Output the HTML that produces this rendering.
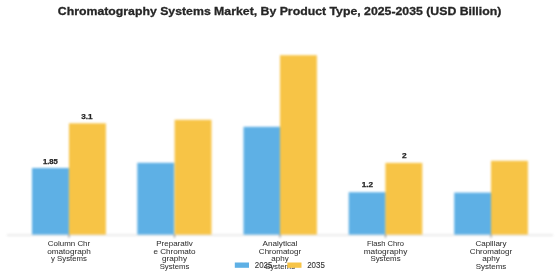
<!DOCTYPE html>
<html><head><meta charset="utf-8">
<style>
html,body{margin:0;padding:0;background:#fff;width:560px;height:280px;overflow:hidden;position:relative}
.l{position:absolute;left:0;top:0;width:560px;height:280px}
.b{filter:blur(0.8px)}
svg{display:block}
text{font-family:"Liberation Sans",sans-serif}
</style></head>
<body>
<div class="l b"><svg width="560" height="280" viewBox="0 0 560 280">
<line x1="7" y1="235.1" x2="553" y2="235.1" stroke="#d8d8d8" stroke-width="1"/>
<g fill="#5EB0E5">
<rect x="32" y="168" width="36.9" height="66.60"/>
<rect x="137.3" y="162.8" width="36.9" height="71.80"/>
<rect x="243.5" y="126.8" width="36.9" height="107.80"/>
<rect x="348.7" y="192.2" width="36.9" height="42.40"/>
<rect x="454.2" y="192.6" width="36.9" height="42.00"/>
</g>
<g fill="#F7C446">
<rect x="69" y="123.3" width="36.9" height="111.30"/>
<rect x="174.6" y="119.8" width="36.9" height="114.80"/>
<rect x="280" y="55.2" width="36.9" height="179.40"/>
<rect x="385.4" y="162.9" width="36.9" height="71.70"/>
<rect x="491" y="160.8" width="36.9" height="73.80"/>
</g>
<line x1="69" y1="234.6" x2="69" y2="237.6" stroke="#555" stroke-width="0.8"/>
<line x1="174.5" y1="234.6" x2="174.5" y2="237.6" stroke="#555" stroke-width="0.8"/>
<line x1="280" y1="234.6" x2="280" y2="237.6" stroke="#555" stroke-width="0.8"/>
<line x1="385.5" y1="234.6" x2="385.5" y2="237.6" stroke="#555" stroke-width="0.8"/>
<line x1="491" y1="234.6" x2="491" y2="237.6" stroke="#555" stroke-width="0.8"/>
</svg></div>
<div class="l" style="will-change:transform"><svg width="560" height="280" viewBox="0 0 560 280">
<text x="57.8" y="14.5" font-size="11.4" font-weight="bold" fill="#262626" stroke="#262626" stroke-width="0.3" textLength="443.5" lengthAdjust="spacingAndGlyphs">Chromatography Systems Market, By Product Type, 2025-2035 (USD Billion)</text>
<text x="43.00" y="163.9" font-size="6.4" font-weight="bold" fill="#262626" stroke="#262626" stroke-width="0.25" textLength="14.8" lengthAdjust="spacingAndGlyphs">1.85</text>
<text x="81.35" y="118.6" font-size="6.4" font-weight="bold" fill="#262626" stroke="#262626" stroke-width="0.25" textLength="11.3" lengthAdjust="spacingAndGlyphs">3.1</text>
<text x="361.65" y="187.3" font-size="6.4" font-weight="bold" fill="#262626" stroke="#262626" stroke-width="0.25" textLength="11.3" lengthAdjust="spacingAndGlyphs">1.2</text>
<text x="402.00" y="158.2" font-size="6.4" font-weight="bold" fill="#262626" stroke="#262626" stroke-width="0.25" textLength="4.6" lengthAdjust="spacingAndGlyphs">2</text>
<text x="47.80" y="245.80" font-size="8.1" fill="#333333" stroke="#333333" stroke-width="0.05" textLength="42.40" lengthAdjust="spacingAndGlyphs">Column Chr</text>
<text x="47.15" y="253.55" font-size="8.1" fill="#333333" stroke="#333333" stroke-width="0.05" textLength="43.70" lengthAdjust="spacingAndGlyphs">omatograph</text>
<text x="51.00" y="261.30" font-size="8.1" fill="#333333" stroke="#333333" stroke-width="0.05" textLength="36.00" lengthAdjust="spacingAndGlyphs">y Systems</text>
<text x="156.30" y="245.80" font-size="8.1" fill="#333333" stroke="#333333" stroke-width="0.05" textLength="36.40" lengthAdjust="spacingAndGlyphs">Preparativ</text>
<text x="153.40" y="253.55" font-size="8.1" fill="#333333" stroke="#333333" stroke-width="0.05" textLength="42.20" lengthAdjust="spacingAndGlyphs">e Chromato</text>
<text x="162.00" y="261.30" font-size="8.1" fill="#333333" stroke="#333333" stroke-width="0.05" textLength="25.00" lengthAdjust="spacingAndGlyphs">graphy</text>
<text x="159.70" y="269.05" font-size="8.1" fill="#333333" stroke="#333333" stroke-width="0.05" textLength="29.60" lengthAdjust="spacingAndGlyphs">Systems</text>
<text x="262.60" y="245.80" font-size="8.1" fill="#333333" stroke="#333333" stroke-width="0.05" textLength="34.80" lengthAdjust="spacingAndGlyphs">Analytical</text>
<text x="258.85" y="253.55" font-size="8.1" fill="#333333" stroke="#333333" stroke-width="0.05" textLength="42.30" lengthAdjust="spacingAndGlyphs">Chromatogr</text>
<text x="271.35" y="261.30" font-size="8.1" fill="#333333" stroke="#333333" stroke-width="0.05" textLength="17.30" lengthAdjust="spacingAndGlyphs">aphy</text>
<text x="264.90" y="269.05" font-size="8.1" fill="#333333" stroke="#333333" stroke-width="0.05" textLength="30.20" lengthAdjust="spacingAndGlyphs">Systems</text>
<text x="367.00" y="245.80" font-size="8.1" fill="#333333" stroke="#333333" stroke-width="0.05" textLength="37.00" lengthAdjust="spacingAndGlyphs">Flash Chro</text>
<text x="363.70" y="253.55" font-size="8.1" fill="#333333" stroke="#333333" stroke-width="0.05" textLength="43.60" lengthAdjust="spacingAndGlyphs">matography</text>
<text x="370.40" y="261.30" font-size="8.1" fill="#333333" stroke="#333333" stroke-width="0.05" textLength="30.20" lengthAdjust="spacingAndGlyphs">Systems</text>
<text x="475.45" y="245.80" font-size="8.1" fill="#333333" stroke="#333333" stroke-width="0.05" textLength="31.10" lengthAdjust="spacingAndGlyphs">Capillary</text>
<text x="469.85" y="253.55" font-size="8.1" fill="#333333" stroke="#333333" stroke-width="0.05" textLength="42.30" lengthAdjust="spacingAndGlyphs">Chromatogr</text>
<text x="482.20" y="261.30" font-size="8.1" fill="#333333" stroke="#333333" stroke-width="0.05" textLength="17.60" lengthAdjust="spacingAndGlyphs">aphy</text>
<text x="475.70" y="269.05" font-size="8.1" fill="#333333" stroke="#333333" stroke-width="0.05" textLength="30.60" lengthAdjust="spacingAndGlyphs">Systems</text>
</svg></div>
<div class="l" style="will-change:transform"><svg width="560" height="280" viewBox="0 0 560 280">
<rect x="234.8" y="262.5" width="14.2" height="5.3" fill="#5EB0E5"/>
<rect x="287.3" y="262.5" width="14.2" height="5.3" fill="#F7C446"/>
<text x="254.8" y="267.8" font-size="8.8" fill="#333333" stroke="#333333" stroke-width="0.1" textLength="17.6" lengthAdjust="spacingAndGlyphs">2025</text>
<text x="307.2" y="267.8" font-size="8.8" fill="#333333" stroke="#333333" stroke-width="0.1" textLength="17.6" lengthAdjust="spacingAndGlyphs">2035</text>
</svg></div>
</body></html>
